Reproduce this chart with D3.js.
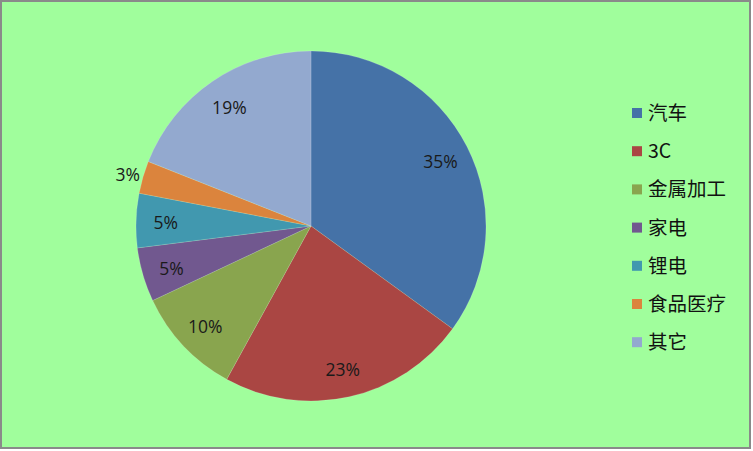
<!DOCTYPE html>
<html><head><meta charset="utf-8">
<script src="https://cdn.jsdelivr.net/npm/d3@7"></script>
<style>html,body{margin:0;padding:0;background:#fff;}svg{display:block;}</style>
</head><body>
<svg id="c" width="753" height="451"></svg>
<script>
const categories = ["汽车", "3C", "金属加工", "家电", "锂电", "食品医疗", "其它"];
const values = [35, 23, 10, 5, 5, 3, 19];
const labels = ["35%", "23%", "10%", "5%", "5%", "3%", "19%"];
const colors = ["#4572A7", "#AA4643", "#89A54E", "#71588F", "#4198AF", "#DB843D", "#93A9CF"];

const svg = d3.select("#c");
svg.append("rect").attr("x", 1).attr("y", 1).attr("width", 749).attr("height", 447)
  .attr("fill", "#a0fe9c").attr("stroke", "#8a8a8a").attr("stroke-width", 2);

const cx = 311, cy = 226, R = 175;
const pie = d3.pie().sort(null).value(d => d)(values);
const arc = d3.arc().innerRadius(0).outerRadius(R);
const g = svg.append("g").attr("transform", `translate(${cx},${cy})`);
g.selectAll("path").data(pie).join("path")
  .attr("d", arc).attr("fill", (d, i) => colors[i])
  .attr("stroke", "rgba(255,255,255,0.25)").attr("stroke-width", 0.6);

const inner = d3.arc().innerRadius(R * 0.83).outerRadius(R * 0.83);
const outer = d3.arc().innerRadius(R * 1.09).outerRadius(R * 1.09);
g.selectAll("text").data(pie).join("text")
  .attr("transform", d => {
    const p = (d.data < 4 ? outer : inner).centroid(d);
    return `translate(${p[0]},${p[1] + 1})`;
  })
  .attr("text-anchor", "middle").attr("dominant-baseline", "central")
  .attr("font-family", "'Open Sans', 'Liberation Sans', sans-serif")
  .attr("font-size", 17.5).attr("fill", "#1a1a1a")
  .text((d, i) => labels[i]);

const leg = svg.append("g").attr("transform", "translate(632,108)");
const rows = leg.selectAll("g").data(categories).join("g")
  .attr("transform", (d, i) => `translate(0,${i * 38.2})`);
rows.append("rect").attr("width", 10).attr("height", 10).attr("fill", (d, i) => colors[i]);
rows.append("text").attr("x", 16).attr("y", 3.5).attr("dominant-baseline", "central")
  .attr("font-family", "'Noto Sans CJK SC', sans-serif").attr("font-size", 19.5).attr("fill", "#111")
  .text(d => d);
</script>
</body></html>
